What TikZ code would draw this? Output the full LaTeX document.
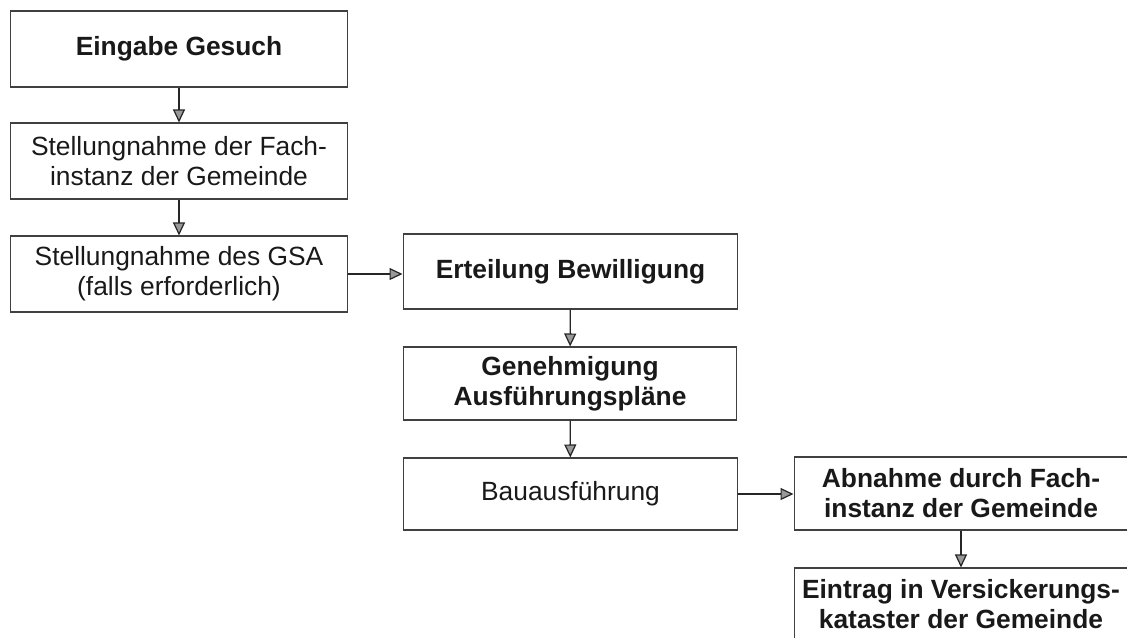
\documentclass[tikz,border=0pt]{standalone}
\usepackage{fontspec}
\setmainfont{Liberation Sans}
\usetikzlibrary{arrows.meta}
\tikzset{
  box/.style={draw=black!75, line width=0.6pt, align=center, inner sep=0pt,
    text=black!90, font=\fontsize{15}{17}\selectfont},
  boldbox/.style={box, font=\fontsize{15}{17}\selectfont\bfseries},
  flow/.style={draw=black!85, line width=0.7pt,
    -{Triangle[length=2.6mm, width=2.4mm, fill=black!40]}}
}
\begin{document}
\begin{tikzpicture}[x=0.02cm, y=-0.02cm]
      \clip (0,0) rectangle (1127,637);
      \fill[white] (0,0) rectangle (1127,637);

      \node[boldbox, minimum width=6.76cm, minimum height=1.52cm] (gesuch) at (179,49) {Eingabe Gesuch};
      \node[box, minimum width=6.76cm, minimum height=1.52cm] (fachinstanz) at (179,161) {Stellungnahme der Fach-\\instanz der Gemeinde};
      \node[box, minimum width=6.76cm, minimum height=1.52cm] (gsa) at (179,274) {Stellungnahme des GSA\\(falls erforderlich)};

      \node[boldbox, minimum width=6.7cm, minimum height=1.5cm] (bewilligung) at (570.5,271.5) {Erteilung Bewilligung};
      \node[boldbox, minimum width=6.68cm, minimum height=1.46cm] (plaene) at (570,383.5) {Genehmigung\\Ausführungspläne};
      \node[box, minimum width=6.7cm, minimum height=1.44cm] (bau) at (570.5,494) {Bauausführung};

      \node[boldbox, minimum width=6.68cm, minimum height=1.46cm] (abnahme) at (961,493.5) {Abnahme durch Fach-\\instanz der Gemeinde};
      \node[boldbox, minimum width=6.68cm, minimum height=1.46cm] (kataster) at (961,604.5) {Eintrag in Versickerungs-\\kataster der Gemeinde};

      \draw[flow] (gesuch) -- (fachinstanz);
      \draw[flow] (fachinstanz) -- (gsa);
      \draw[flow] (gsa.east) -- (gsa.east -| bewilligung.west);
      \draw[flow] (bewilligung) -- (plaene);
      \draw[flow] (plaene) -- (bau);
      \draw[flow] (bau.east) -- (bau.east -| abnahme.west);
      \draw[flow] (abnahme) -- (kataster);
    \end{tikzpicture}
\end{document}
